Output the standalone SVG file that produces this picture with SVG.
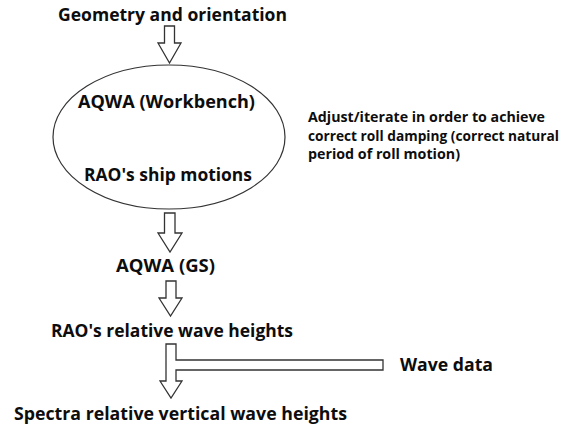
<svg xmlns="http://www.w3.org/2000/svg" width="575" height="427" viewBox="0 0 575 427">
<style>
.t{font-family:"Open Sans","Liberation Sans",sans-serif;font-weight:bold;fill:#0d0d0d;}
.big{font-size:17px;}
.sm{font-size:13.5px;}
.arr{fill:#fff;stroke:#333;stroke-width:1.3;stroke-linejoin:miter;}
.ell{fill:#fff;stroke:#333;stroke-width:1.2;}
</style>
<rect width="575" height="427" fill="#fff"/>
<g id="connectors">
<path class="arr" d="M164.5,26 H174.5 V43 H181 L169.5,63 L158,43 H164.5 Z"/>
<path class="arr" d="M164.5,213 H175 V233 H182 L170,252 L158,233 H164.5 Z"/>
<path class="arr" d="M166,281 H176 V298 H182 L170.5,316 L159,298 H166 Z"/>
<path class="arr" d="M166,344 H176 V360 H383 V370 H176 V381 H182 L171,398 L160,381 H166 Z"/>
</g>
<g id="geometry">
<text class="t big" x="58" y="21" textLength="229" lengthAdjust="spacingAndGlyphs">Geometry and orientation</text>
</g>
<g id="aqwa-workbench">
<ellipse class="ell" cx="169" cy="137" rx="116" ry="72"/>
<text class="t big" x="78" y="108" textLength="177" lengthAdjust="spacingAndGlyphs">AQWA (Workbench)</text>
<text class="t big" x="84" y="181" textLength="168" lengthAdjust="spacingAndGlyphs">RAO's ship motions</text>
</g>
<g id="note">
<text class="t sm" x="308" y="122" textLength="237" lengthAdjust="spacingAndGlyphs">Adjust/iterate in order to achieve</text>
<text class="t sm" x="308" y="141" textLength="251" lengthAdjust="spacingAndGlyphs">correct roll damping (correct natural</text>
<text class="t sm" x="308" y="159" textLength="152" lengthAdjust="spacingAndGlyphs">period of roll motion)</text>
</g>
<g id="aqwa-gs">
<text class="t big" x="116" y="272" textLength="99" lengthAdjust="spacingAndGlyphs">AQWA (GS)</text>
</g>
<g id="rao-relative">
<text class="t big" x="51" y="337" textLength="242" lengthAdjust="spacingAndGlyphs">RAO's relative wave heights</text>
</g>
<g id="wave-data">
<text class="t big" x="400" y="371" textLength="93" lengthAdjust="spacingAndGlyphs">Wave data</text>
</g>
<g id="spectra">
<text class="t big" x="14" y="420" textLength="333" lengthAdjust="spacingAndGlyphs">Spectra relative vertical wave heights</text>
</g>
</svg>
